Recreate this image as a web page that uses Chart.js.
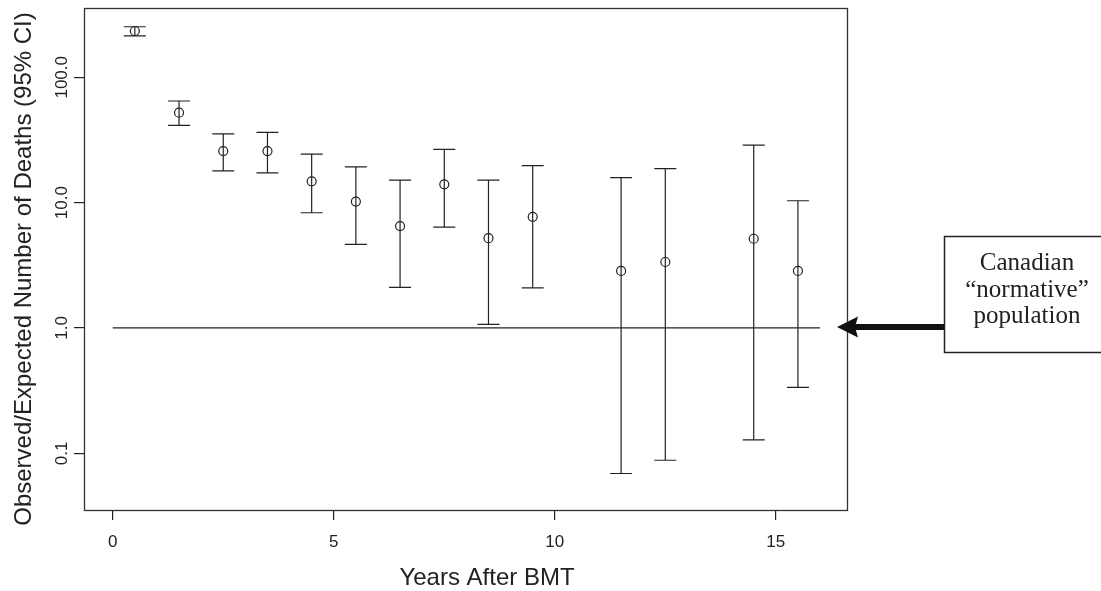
<!DOCTYPE html>
<html>
<head>
<meta charset="utf-8">
<script src="https://cdn.jsdelivr.net/npm/chart.js@4"></script>
<style>
    html, body { margin: 0; padding: 0; background: #fff; }
    #grafico { display: block; }
</style>
</head>
<body>
<canvas id="grafico" width="1101" height="591"></canvas>
<script>
// years after BMT (interval midpoints) and observed/expected ratio with 95% CI
const years = [0.5, 1.5, 2.5, 3.5, 4.5, 5.5, 6.5, 7.5, 8.5, 9.5, 11.5, 12.5, 14.5, 15.5];
const ratio = [234, 52.2, 25.8, 25.8, 14.8, 10.2, 6.5, 14.0, 5.2, 7.7, 2.85, 3.36, 5.15, 2.85];
const ciLow = [214, 41.4, 17.9, 17.3, 8.3, 4.65, 2.11, 6.38, 1.07, 2.09, 0.069, 0.088, 0.128, 0.336];
const ciHigh = [253, 64.7, 35.3, 36.4, 24.4, 19.3, 15.1, 26.6, 15.1, 19.7, 15.8, 18.7, 28.8, 10.35];

// reference line (population ratio = 1)
const refX = [0, 16];
const refY = [1, 1];

const xTicks = [0, 5, 10, 15];
const yTicks = [0.1, 1, 10, 100];

const xTitle = "Years After BMT";
const yTitle = "Observed/Expected Number of Deaths (95% CI)";
const noteLines = ["Canadian", "\u201Cnormative\u201D", "population"];

const ink = "#222";

Chart.defaults.font.family = "'Liberation Sans', Arial, sans-serif";
Chart.defaults.color = ink;

const errorBars = {
    id: "errorBars",
    beforeDatasetsDraw(chart) {
        const ctx = chart.ctx;
        const sx = chart.scales.x;
        const sy = chart.scales.y;
        ctx.save();
        ctx.strokeStyle = ink;
        ctx.lineWidth = 1.2;
        years.forEach((a, i) => {
            const px = sx.getPixelForValue(a);
            const top = sy.getPixelForValue(ciHigh[i]);
            const bot = sy.getPixelForValue(ciLow[i]);
            ctx.beginPath();
            ctx.moveTo(px, top);
            ctx.lineTo(px, bot);
            ctx.moveTo(px - 11, top);
            ctx.lineTo(px + 11, top);
            ctx.moveTo(px - 11, bot);
            ctx.lineTo(px + 11, bot);
            ctx.stroke();
        });
        ctx.restore();
    }
};

const frame = {
    id: "frame",
    afterDraw(chart) {
        const { left, top, right, bottom } = chart.chartArea;
        const ctx = chart.ctx;
        ctx.save();
        ctx.strokeStyle = "#333";
        ctx.lineWidth = 1.3;
        ctx.strokeRect(left + 0.5, top + 0.5, right - left, bottom - top);
        ctx.restore();
    }
};

const axisTitles = {
    id: "axisTitles",
    afterDraw(chart) {
        const ctx = chart.ctx;
        ctx.save();
        ctx.fillStyle = ink;
        ctx.font = "24px 'Liberation Sans', Arial, sans-serif";
        ctx.textAlign = "center";
        ctx.textBaseline = "alphabetic";
        ctx.fillText(xTitle, 487, 585);
        ctx.translate(31, 269);
        ctx.rotate(-Math.PI / 2);
        ctx.fillText(yTitle, 0, 0);
        ctx.restore();
    }
};

const note = {
    id: "note",
    afterDraw(chart) {
        const ctx = chart.ctx;
        ctx.save();
        ctx.strokeStyle = ink;
        ctx.lineWidth = 1.5;
        ctx.strokeRect(944.5, 236.5, 170, 116);
        ctx.fillStyle = ink;
        ctx.font = "25px 'Liberation Serif', 'Times New Roman', serif";
        ctx.textAlign = "center";
        ctx.textBaseline = "alphabetic";
        noteLines.forEach((t, i) => ctx.fillText(t, 1027, 270 + i * 26.7));

        // arrow pointing at the reference line
        const y = 327;
        ctx.fillStyle = "#111";
        ctx.fillRect(852, y - 3, 944 - 852, 6);
        ctx.beginPath();
        ctx.moveTo(837, y);
        ctx.lineTo(858, y - 10.5);
        ctx.lineTo(855, y);
        ctx.lineTo(858, y + 10.5);
        ctx.closePath();
        ctx.fill();
        ctx.restore();
    }
};

new Chart(document.getElementById("grafico"), {
    type: "scatter",
    data: {
        datasets: [
            {
                type: "line",
                data: refX.map((x, i) => ({ x: x, y: refY[i] })),
                borderColor: ink,
                borderWidth: 1.2,
                pointRadius: 0,
                fill: false
            },
            {
                data: years.map((x, i) => ({ x: x, y: ratio[i] })),
                pointStyle: "circle",
                pointRadius: 4.5,
                pointBorderWidth: 1.2,
                pointBorderColor: ink,
                pointBackgroundColor: "rgba(255,255,255,0)",
                showLine: false
            }
        ]
    },
    options: {
        responsive: false,
        animation: false,
        devicePixelRatio: 1,
        layout: { padding: { top: 8, right: 254, bottom: 0, left: 0 } },
        plugins: {
            legend: { display: false },
            tooltip: { enabled: false }
        },
        scales: {
            x: {
                type: "linear",
                min: -0.65,
                max: 16.61,
                afterBuildTicks: (s) => { s.ticks = xTicks.map(v => ({ value: v })); },
                afterFit: (s) => { s.height = 81; },
                grid: { drawOnChartArea: false, tickLength: 10, color: ink, lineWidth: 1.2 },
                border: { display: false },
                ticks: { font: { size: 17 }, color: ink, padding: 12, maxRotation: 0 }
            },
            y: {
                type: "logarithmic",
                min: 0.0353,
                max: 357,
                afterBuildTicks: (s) => { s.ticks = yTicks.map(v => ({ value: v })); },
                afterFit: (s) => { s.width = 84; },
                grid: { drawOnChartArea: false, tickLength: 10, color: ink, lineWidth: 1.2 },
                border: { display: false },
                ticks: {
                    font: { size: 17 },
                    color: ink,
                    minRotation: 90,
                    maxRotation: 90,
                    crossAlign: "center",
                    padding: -10,
                    callback: (v) => Number(v).toFixed(1)
                }
            }
        }
    },
    plugins: [errorBars, frame, axisTitles, note]
});
</script>
</body>
</html>
